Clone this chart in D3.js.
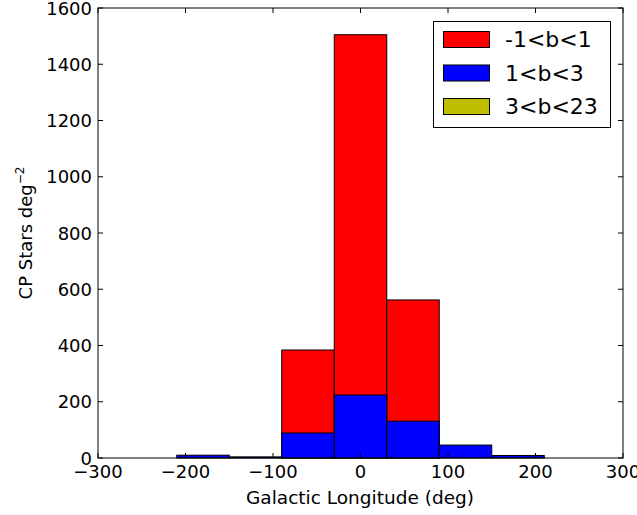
<!DOCTYPE html>
<html><head><meta charset="utf-8">
<script src="https://cdn.jsdelivr.net/npm/d3@7"></script>
<style>body{margin:0;background:#fff;} svg{display:block;} text{font-family:"DejaVu Sans",sans-serif;fill:#000;}</style>
</head><body>
<svg id="c" width="637" height="515"></svg>
<script>
const binEdges = [-210, -150, -90, -30, 30, 90, 150, 210];
const seriesNames = ["-1<b<1", "1<b<3", "3<b<23"];
const seriesColors = ["#ff0000", "#0000ff", "#bfbf00"];
const redValues = [0, 0, 384, 1505, 562, 0, 0];
const blueValues = [10, 4, 89, 224, 131, 46, 9];
const yellowValues = [0, 0, 0, 0, 0, 0, 0];
const xTicks = [-300, -200, -100, 0, 100, 200, 300];
const yTicks = [0, 200, 400, 600, 800, 1000, 1200, 1400, 1600];

const svg = d3.select("#c");
const L = 98, R = 623, T = 8, B = 458;
const x = d3.scaleLinear().domain([-300, 300]).range([L, R]);
const y = d3.scaleLinear().domain([0, 1600]).range([B, T]);

const series = [redValues, blueValues, yellowValues];
series.forEach((vals, si) => {
  svg.append("g").selectAll("rect").data(vals.map((v, i) => ({v, i})).filter(d => d.v > 0))
    .enter().append("rect")
    .attr("x", d => x(binEdges[d.i]))
    .attr("width", d => x(binEdges[d.i + 1]) - x(binEdges[d.i]))
    .attr("y", d => y(d.v))
    .attr("height", d => y(0) - y(d.v))
    .attr("fill", seriesColors[si]).attr("stroke", "#000").attr("stroke-width", 1);
});

// frame
svg.append("rect").attr("x", L).attr("y", T).attr("width", R - L).attr("height", B - T)
  .attr("fill", "none").attr("stroke", "#000").attr("stroke-width", 1);

const tl = 5;
const fs = 18;
// x ticks
const gx = svg.append("g");
xTicks.forEach(t => {
  const px = x(t);
  gx.append("line").attr("x1", px).attr("x2", px).attr("y1", B).attr("y2", B - tl).attr("stroke", "#000");
  gx.append("line").attr("x1", px).attr("x2", px).attr("y1", T).attr("y2", T + tl).attr("stroke", "#000");
  gx.append("text").attr("x", px).attr("y", B + 20).attr("text-anchor", "middle")
    .attr("font-size", fs).text(d3.format("")(t).replace("-", "\u2212"));
});
const gy = svg.append("g");
yTicks.forEach(t => {
  const py = y(t);
  gy.append("line").attr("x1", L).attr("x2", L + tl).attr("y1", py).attr("y2", py).attr("stroke", "#000");
  gy.append("line").attr("x1", R).attr("x2", R - tl).attr("y1", py).attr("y2", py).attr("stroke", "#000");
  gy.append("text").attr("x", L - 6).attr("y", py + 6.5).attr("text-anchor", "end")
    .attr("font-size", fs).text(t);
});

svg.append("text").attr("x", (L + R) / 2 - 0.5).attr("y", 504).attr("text-anchor", "middle")
  .attr("font-size", 18.5).text("Galactic Longitude (deg)");

const yl = svg.append("text").attr("transform", `translate(32,${(T + B) / 2}) rotate(-90)`)
  .attr("text-anchor", "middle").attr("font-size", 18);
yl.append("tspan").text("CP Stars deg");
yl.append("tspan").attr("dy", -8).attr("font-size", 12).text("\u22122");

// legend
const lg = svg.append("g");
lg.append("rect").attr("x", 433.5).attr("y", 21.5).attr("width", 177).attr("height", 106)
  .attr("fill", "#fff").attr("stroke", "#000");
seriesNames.forEach((n, i) => {
  const yy = 31 + i * 33.5;
  lg.append("rect").attr("x", 443.5).attr("y", yy + 0.5).attr("width", 46).attr("height", 16)
    .attr("fill", seriesColors[i]).attr("stroke", "#000");
  lg.append("text").attr("x", 505).attr("y", yy + 16).attr("font-size", 22).text(n);
});
</script>
</body></html>
